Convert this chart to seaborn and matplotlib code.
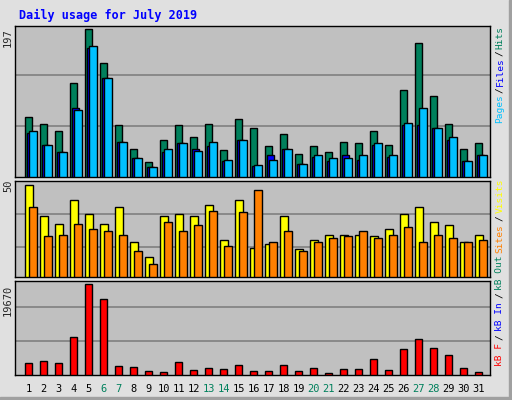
import numpy as np
import matplotlib
matplotlib.use("Agg")
import matplotlib.pyplot as plt
import seaborn as sns

days = list(range(1, 32))
hits = [80, 71, 61, 126, 198, 152, 69, 38, 20, 50, 69, 53, 71, 36, 78, 65, 41, 57, 31, 42, 34, 47, 45, 61, 43, 116, 179, 109, 71, 38, 46]
files = [59, 43, 33, 92, 172, 132, 47, 26, 13, 33, 46, 37, 41, 22, 49, 15, 29, 37, 17, 27, 22, 29, 23, 43, 27, 69, 70, 65, 49, 21, 29]
pages = [62, 43, 34, 89, 175, 133, 47, 26, 14, 37, 46, 35, 47, 23, 50, 16, 23, 37, 17, 29, 25, 26, 29, 45, 29, 72, 92, 65, 54, 21, 30]
visits = [50, 33, 29, 42, 34, 29, 38, 19, 11, 33, 34, 33, 39, 20, 42, 16, 18, 33, 15, 20, 23, 23, 23, 22, 26, 34, 38, 30, 28, 19, 23]
sites = [38, 22, 23, 29, 26, 25, 23, 14, 7, 30, 25, 28, 36, 17, 35, 47, 19, 25, 14, 19, 21, 22, 25, 21, 23, 27, 19, 23, 21, 19, 20]
kbytes = [2560, 3000, 2560, 8260, 19670, 16380, 1900, 1680, 800, 580, 2780, 1020, 1460, 1240, 2120, 800, 800, 2120, 800, 1460, 370, 1240, 1240, 3430, 1020, 5630, 7830, 5850, 4310, 1460, 580]
weekends = [6, 7, 13, 14, 20, 21, 27, 28]

sns.set_style("white")
plt.rcParams['font.family'] = ['DejaVu Sans Mono', 'DejaVu Sans']

W, H = 512, 400
fig = plt.figure(figsize=(W/100, H/100), dpi=100, facecolor="#E0E0E0")
panel_bg = "#C0C0C0"
x = np.arange(31)

# shadow edges
fig.add_artist(plt.Rectangle((0, 0), 1, 3/H, transform=fig.transFigure, color="#A0A0A0"))
fig.add_artist(plt.Rectangle((1-3/W, 0), 3/W, 1, transform=fig.transFigure, color="#A0A0A0"))

def mk(top, bottom):
    ax = fig.add_axes([15/W, 1-bottom/H, 475/W, (bottom-top)/H])
    ax.set_facecolor(panel_bg)
    ax.set_xlim(-0.667, 31)
    ax.set_xticks([]); ax.set_yticks([])
    for s in ax.spines.values():
        s.set_color("black"); s.set_linewidth(1)
    return ax

kw = dict(edgecolor="black", linewidth=1, align="edge", zorder=3)

ax1 = mk(26, 177)
ax1.set_ylim(0, 198/0.98)
for g in [197/2.9*1, 197/2.9*2]:
    ax1.axhline(g, color="#808080", lw=1.2, zorder=1)
ax1.bar(x, hits, width=0.49, color="#00805C", **kw)
ax1.bar(x + 0.13, files, width=0.49, color="#0000FF", **kw)
ax1.bar(x + 0.27, pages, width=0.5, color="#00C0FF", **kw)

ax2 = mk(181, 277)
ax2.set_ylim(0, 50/0.96)
for g in [16.3, 34]:
    ax2.axhline(g, color="#808080", lw=1.2, zorder=1)
ax2.bar(x, visits, width=0.55, color="#FFFF00", **kw)
ax2.bar(x + 0.27, sites, width=0.5, color="#FF8000", **kw)

ax3 = mk(281, 375)
ax3.set_ylim(0, 19670/0.97)
for g in [19670/2.7*1, 19670/2.7*2, 19670/2.7*3*0.97]:
    ax3.axhline(g, color="#808080", lw=1.2, zorder=1)
ax3.bar(x, kbytes, width=0.49, color="#FF0000", **kw)

for i, d in enumerate(days):
    fig.text((15 + (i + 0.667 + 0.25) * 475/31.667)/W, 1-389/H, str(d),
             ha="center", va="center", fontsize=7.5,
             color="#00805C" if d in weekends else "black")

fig.text(19/W, 1-15/H, "Daily usage for July 2019", color="#0000FF",
         fontsize=8.5, fontweight="bold", ha="left", va="center")

fig.text(8/W, 1-38/H, "197", rotation=90, fontsize=7.5, ha="center", va="center")
fig.text(8/W, 1-186/H, "50", rotation=90, fontsize=7.5, ha="center", va="center")
fig.text(8/W, 1-300/H, "19670", rotation=90, fontsize=7.5, ha="center", va="center")

FS = 6.8
ADV = 0.602 * FS * 100 / 72 * 0.9

def rlabel(parts, y_bottom, y_top):
    total = sum(len(t) for t, _ in parts)
    adv = (y_bottom - y_top) / total
    y = y_bottom
    for txt, col in parts:
        n = len(txt)
        s = txt.strip()
        if s:
            lead = len(txt) - len(txt.lstrip())
            c = y - (lead + len(s) / 2) * adv
            fig.text(500/W, 1-c/H, s, rotation=90, fontsize=FS, color=col,
                     ha="center", va="center")
        y -= n * adv

rlabel([("Pages", "#00C0FF"), (" / ", "black"), ("Files", "#0000FF"), (" / ", "black"), ("Hits", "#00805C")], 120, 28)
rlabel([("kB F", "#FF0000"), (" / ", "black"), ("kB In", "#0000FF"), (" / ", "black"),
        ("kB Out", "#00805C"), (" ", "black"), ("Sites", "#FF8000"), (" / ", "black"), ("Visits", "#FFFF00")], 365, 180)

fig.savefig("out.png", dpi=100, facecolor=fig.get_facecolor())
